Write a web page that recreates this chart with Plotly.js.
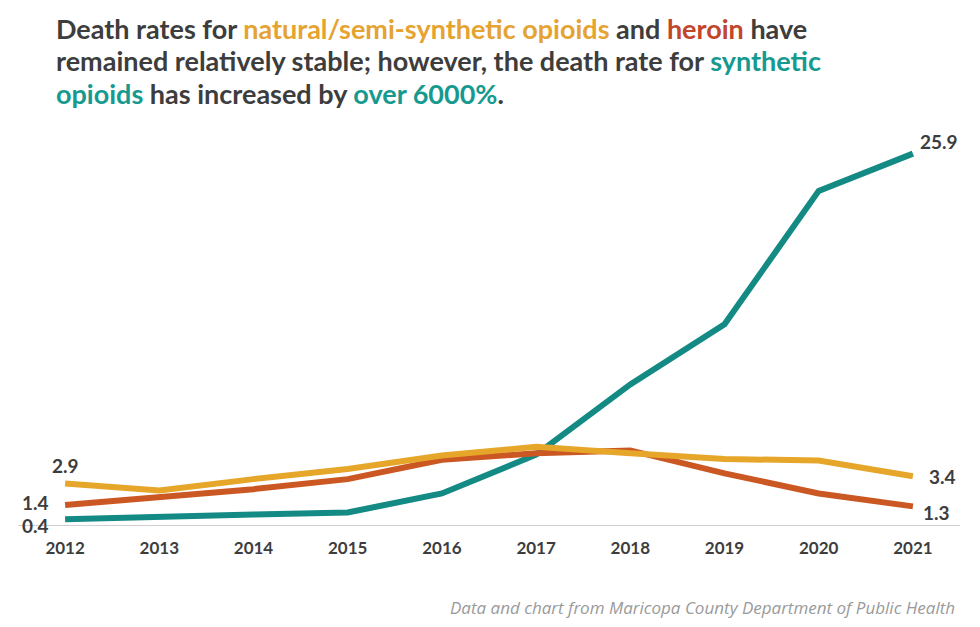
<!DOCTYPE html>
<html>
<head>
<meta charset="utf-8">
<script src="https://cdn.plot.ly/plotly-3.0.1.min.js"></script>
<style>html,body{margin:0;padding:0;background:#fff;}#chart{width:980px;height:627px;}</style>
</head>
<body>
<div id="chart"></div>
<script>
const years = [2012, 2013, 2014, 2015, 2016, 2017, 2018, 2019, 2020, 2021];
const synthetic = [0.4, 0.52, 0.73, 0.87, 2.2, 4.9, 9.8, 14.0, 23.3, 25.9];
const naturalSemi = [2.9, 2.4, 3.2, 3.9, 4.85, 5.45, 5.0, 4.6, 4.5, 3.4];
const heroin = [1.4, 1.9, 2.5, 3.2, 4.55, 5.0, 5.2, 3.6, 2.2, 1.3];

const titleLines = [
  'Death rates for <span style="color:#e5a331">natural/semi-synthetic opioids</span> and <span style="color:#c2462a">heroin</span> have',
  'remained relatively stable; however, the death rate for <span style="color:#169a8f">synthetic</span>',
  '<span style="color:#169a8f">opioids</span> has increased by <span style="color:#169a8f">over 6000%</span>.'
];
const sourceText = 'Data and chart from Maricopa County Department of Public Health';

const cTeal = '#148a84', cGold = '#e6a62a', cRust = '#cb5722';
const dark = '#3d3d3d';

const W = 980, H = 627, M = {l: 18, r: 20, t: 145, b: 102};
const plotW = W - M.l - M.r, plotH = H - M.t - M.b;
const px = x => (x - M.l) / plotW;
const py = y => (H - M.b - y) / plotH;

function line(y, color, name) {
  return {x: years, y: y, type: 'scatter', mode: 'lines', name: name,
    line: {color: color, width: 6}, cliponaxis: false, hoverinfo: 'skip'};
}

const traces = [
  line(synthetic, cTeal, 'Synthetic opioids'),
  line(heroin, cRust, 'Heroin'),
  line(naturalSemi, cGold, 'Natural/semi-synthetic opioids')
];

const n = years.length - 1;
const lblFont = {family: 'Lato, sans-serif', size: 19, color: dark, weight: 'bold'};
function lbl(x, y, xshift, yshift, xanchor) {
  return {x: x, y: y, xref: 'x', yref: 'y', text: y.toFixed(1), showarrow: false,
    xshift: xshift, yshift: yshift, xanchor: xanchor || 'center', font: lblFont};
}
const annotations = [
  lbl(years[0], naturalSemi[0], 0, 18),
  lbl(years[0], heroin[0], -14, 2, 'right'),
  lbl(years[0], synthetic[0], -14, -6, 'right'),
  lbl(years[n], synthetic[n], 5, 12, 'left'),
  lbl(years[n], naturalSemi[n], 14, 0, 'left'),
  lbl(years[n], heroin[n], 8, -6, 'left'),
  {xref: 'paper', yref: 'paper', x: px(957), y: py(607), xanchor: 'right', yanchor: 'middle',
   showarrow: false, text: '<i>' + sourceText + '</i>',
   font: {family: 'Open Sans, sans-serif', size: 17, color: '#9a9a9a'}}
];
const titleY = [28, 61, 94];
titleLines.forEach((t, i) => annotations.push({
  xref: 'paper', yref: 'paper', x: px(54), y: py(titleY[i]), xanchor: 'left', yanchor: 'middle',
  showarrow: false, align: 'left', text: t,
  font: {family: 'Lato, sans-serif', size: 27, color: dark, weight: 'bold'}
}));

const layout = {
  width: W, height: H,
  margin: M,
  paper_bgcolor: '#fff', plot_bgcolor: '#fff',
  showlegend: false,
  xaxis: {range: [2011.5, 2021.5], tickvals: years, ticktext: years.map(String),
    showgrid: false, zeroline: false, showline: true, linecolor: '#d0d0d0', linewidth: 1,
    ticks: '', ticklabelstandoff: 8,
    tickfont: {family: 'Lato, sans-serif', size: 17, color: dark, weight: 'bold'}, fixedrange: true},
  yaxis: {range: [0, 26.5], visible: false, showgrid: false, zeroline: false, fixedrange: true},
  annotations: annotations
};

Plotly.newPlot('chart', traces, layout, {displayModeBar: false, staticPlot: true});
</script>
</body>
</html>
